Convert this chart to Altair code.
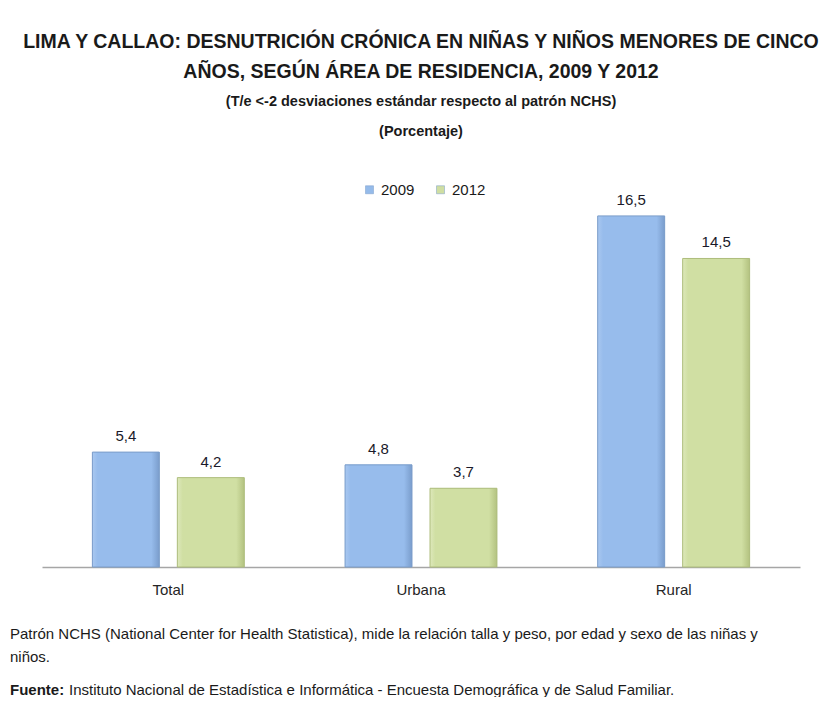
import altair as alt
import pandas as pd

categories = ["Total", "Urbana", "Rural"]
years = ["2009", "2012"]
values_2009 = [5.4, 4.8, 16.5]
values_2012 = [4.2, 3.7, 14.5]
series_colors = ["#95bbea", "#cfdea2"]

title_lines = ["LIMA Y CALLAO: DESNUTRICIÓN CRÓNICA EN NIÑAS Y NIÑOS MENORES DE CINCO",
               "AÑOS, SEGÚN ÁREA DE RESIDENCIA, 2009 Y 2012"]
subtitle_lines = ["(T/e <-2 desviaciones estándar respecto al patrón NCHS)", "(Porcentaje)"]
note_lines = ["Patrón NCHS (National Center for Health Statistica), mide la relación talla y peso, por edad y sexo de las niñas y",
              "niños."]
source_label = "Fuente:"
source_text = "Instituto Nacional de Estadística e Informática - Encuesta Demográfica y de Salud Familiar."

rows = []
for yr, vals in zip(years, [values_2009, values_2012]):
    for c, v in zip(categories, vals):
        rows.append({"area": c, "year": yr, "value": v,
                     "label": f"{v:.1f}".replace(".", ",")})
df = pd.DataFrame(rows)
one = pd.DataFrame({"k": [0]})

FONT = "Liberation Sans"

x_enc = alt.X("area:N", sort=categories,
              scale=alt.Scale(paddingInner=0, paddingOuter=0),
              axis=alt.Axis(title=None, labelAngle=0, ticks=False, domainColor="#a6a6a6",
                            domainWidth=1.5, labelFontSize=15, labelPadding=15,
                            labelColor="#262626", labelFont=FONT))
xo_enc = alt.XOffset("year:N", scale=alt.Scale(domain=years, paddingInner=0.212, paddingOuter=0.593))
y_enc = alt.Y("value:Q", scale=alt.Scale(domain=[0, 18], nice=False), axis=None)

base = alt.Chart(df).encode(x=x_enc, xOffset=xo_enc, y=y_enc)

legend_bars = base.mark_bar().encode(
    color=alt.Color("year:N", scale=alt.Scale(domain=years, range=series_colors),
                    legend=alt.Legend(title=None, orient="none", legendX=320, legendY=-2,
                                      direction="horizontal", symbolType="square",
                                      symbolSize=64, symbolStrokeColor="#7a9cc8",
                                      symbolStrokeWidth=0.5, labelFontSize=15,
                                      labelFont=FONT, labelColor="#1a1a1a",
                                      columnPadding=18, labelOffset=4))
)


def grad(c_edge, c_mid, c_dark):
    return {"gradient": "linear", "x1": 0, "x2": 1, "y1": 0, "y2": 0,
            "stops": [{"offset": 0, "color": c_edge},
                      {"offset": 0.08, "color": c_mid},
                      {"offset": 0.88, "color": c_mid},
                      {"offset": 1, "color": c_dark}]}


blue_bars = base.transform_filter(alt.datum.year == years[0]).mark_bar(
    color=grad("#a9c8f0", "#97bcec", "#7a9dcc"), stroke="#7b9dca", strokeWidth=1)
green_bars = base.transform_filter(alt.datum.year == years[1]).mark_bar(
    color=grad("#dde8bb", "#d0dfa3", "#b3c280"), stroke="#aebd7d", strokeWidth=1)

labels = base.mark_text(baseline="bottom", dy=-8, fontSize=15, font=FONT,
                        color="#1a1a2a").encode(text="label:N")

note_style = dict(align="left", baseline="middle", fontSize=15, font=FONT, color="#1a1a1a")
note1 = alt.Chart(one).mark_text(text=note_lines[0], **note_style).encode(
    x=alt.value(-32), y=alt.value(450))
note2 = alt.Chart(one).mark_text(text=note_lines[1], **note_style).encode(
    x=alt.value(-32), y=alt.value(473))
src1 = alt.Chart(one).mark_text(text=source_label, fontWeight="bold", **note_style).encode(
    x=alt.value(-32), y=alt.value(506))
src2 = alt.Chart(one).mark_text(text=source_text, **note_style).encode(
    x=alt.value(27), y=alt.value(506))

chart = alt.layer(legend_bars, blue_bars, green_bars, labels, note1, note2, src1, src2).properties(
    width=758, height=383,
    padding={"left": 34, "top": 176, "right": 24, "bottom": 130},
    autosize=alt.AutoSizeParams(type="none"),
    title=alt.TitleParams(text=title_lines, subtitle=subtitle_lines, anchor="middle",
                          font=FONT, fontSize=19.5, fontWeight="bold", color="#1a1a1a",
                          lineHeight=30, subtitleFont=FONT, subtitleFontSize=14.5,
                          subtitleFontWeight="bold", subtitleColor="#1a1a1a",
                          subtitleLineHeight=30, subtitlePadding=12, offset=43)
).configure_view(stroke=None)

chart.save("out.html", embed_options={"renderer": "svg", "actions": False})
